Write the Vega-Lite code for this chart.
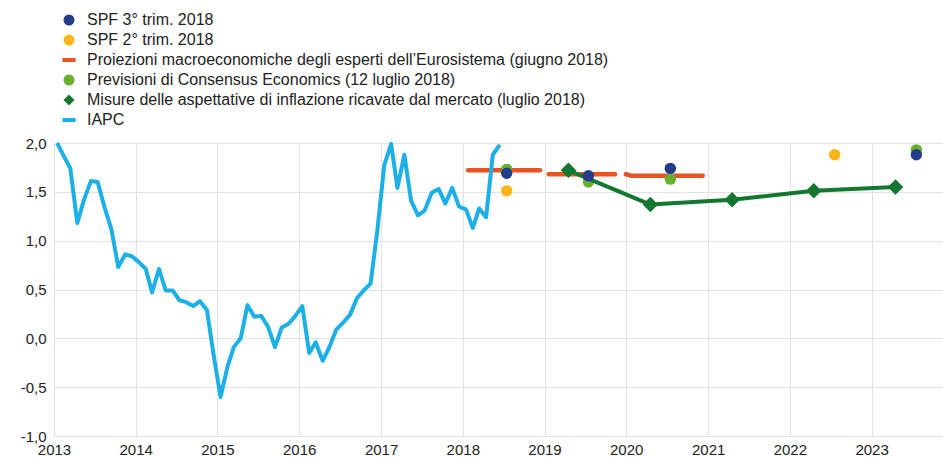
{
  "$schema": "https://vega.github.io/schema/vega-lite/v6.json",
  "width": 889,
  "height": 293,
  "autosize": {"type": "none"},
  "padding": {"left": 54, "top": 143, "right": 0, "bottom": 21},
  "config": {
    "locale": {"number": {"decimal": ",", "thousands": ".", "grouping": [3], "currency": ["", " €"], "minus": "-"}},
    "view": {"stroke": null},
    "font": "Liberation Sans",
    "axis": {"grid": true, "gridColor": "#e2e2e2", "gridWidth": 1, "domain": false, "ticks": false, "labelFontSize": 15, "labelColor": "#222222", "title": null},
    "legend": {"orient": "none", "legendX": 7, "legendY": -131, "labelFontSize": 16, "labelColor": "#222222", "labelLimit": 0, "symbolSize": 121, "rowPadding": 4, "labelOffset": 10, "padding": 0, "title": null}
  },
  "data": {"values": [
    {"series": "IAPC", "date": "2013-01-15", "value": 2.0},
    {"series": "IAPC", "date": "2013-02-15", "value": 1.86},
    {"series": "IAPC", "date": "2013-03-15", "value": 1.74},
    {"series": "IAPC", "date": "2013-04-15", "value": 1.18},
    {"series": "IAPC", "date": "2013-05-15", "value": 1.42},
    {"series": "IAPC", "date": "2013-06-15", "value": 1.61},
    {"series": "IAPC", "date": "2013-07-15", "value": 1.6},
    {"series": "IAPC", "date": "2013-08-15", "value": 1.34},
    {"series": "IAPC", "date": "2013-09-15", "value": 1.11},
    {"series": "IAPC", "date": "2013-10-15", "value": 0.73},
    {"series": "IAPC", "date": "2013-11-15", "value": 0.86},
    {"series": "IAPC", "date": "2013-12-15", "value": 0.84},
    {"series": "IAPC", "date": "2014-01-15", "value": 0.78},
    {"series": "IAPC", "date": "2014-02-15", "value": 0.71},
    {"series": "IAPC", "date": "2014-03-15", "value": 0.47},
    {"series": "IAPC", "date": "2014-04-15", "value": 0.71},
    {"series": "IAPC", "date": "2014-05-15", "value": 0.49},
    {"series": "IAPC", "date": "2014-06-15", "value": 0.49},
    {"series": "IAPC", "date": "2014-07-15", "value": 0.39},
    {"series": "IAPC", "date": "2014-08-15", "value": 0.37},
    {"series": "IAPC", "date": "2014-09-15", "value": 0.33},
    {"series": "IAPC", "date": "2014-10-15", "value": 0.38},
    {"series": "IAPC", "date": "2014-11-15", "value": 0.29},
    {"series": "IAPC", "date": "2014-12-15", "value": -0.17},
    {"series": "IAPC", "date": "2015-01-15", "value": -0.6},
    {"series": "IAPC", "date": "2015-02-15", "value": -0.29},
    {"series": "IAPC", "date": "2015-03-15", "value": -0.09},
    {"series": "IAPC", "date": "2015-04-15", "value": 0.0},
    {"series": "IAPC", "date": "2015-05-15", "value": 0.34},
    {"series": "IAPC", "date": "2015-06-15", "value": 0.22},
    {"series": "IAPC", "date": "2015-07-15", "value": 0.23},
    {"series": "IAPC", "date": "2015-08-15", "value": 0.12},
    {"series": "IAPC", "date": "2015-09-15", "value": -0.09},
    {"series": "IAPC", "date": "2015-10-15", "value": 0.11},
    {"series": "IAPC", "date": "2015-11-15", "value": 0.15},
    {"series": "IAPC", "date": "2015-12-15", "value": 0.23},
    {"series": "IAPC", "date": "2016-01-15", "value": 0.33},
    {"series": "IAPC", "date": "2016-02-15", "value": -0.15},
    {"series": "IAPC", "date": "2016-03-15", "value": -0.04},
    {"series": "IAPC", "date": "2016-04-15", "value": -0.23},
    {"series": "IAPC", "date": "2016-05-15", "value": -0.09},
    {"series": "IAPC", "date": "2016-06-15", "value": 0.09},
    {"series": "IAPC", "date": "2016-07-15", "value": 0.16},
    {"series": "IAPC", "date": "2016-08-15", "value": 0.24},
    {"series": "IAPC", "date": "2016-09-15", "value": 0.41},
    {"series": "IAPC", "date": "2016-10-15", "value": 0.49},
    {"series": "IAPC", "date": "2016-11-15", "value": 0.56},
    {"series": "IAPC", "date": "2016-12-15", "value": 1.1},
    {"series": "IAPC", "date": "2017-01-15", "value": 1.77},
    {"series": "IAPC", "date": "2017-02-15", "value": 1.99},
    {"series": "IAPC", "date": "2017-03-15", "value": 1.54},
    {"series": "IAPC", "date": "2017-04-15", "value": 1.88},
    {"series": "IAPC", "date": "2017-05-15", "value": 1.41},
    {"series": "IAPC", "date": "2017-06-15", "value": 1.26},
    {"series": "IAPC", "date": "2017-07-15", "value": 1.31},
    {"series": "IAPC", "date": "2017-08-15", "value": 1.49},
    {"series": "IAPC", "date": "2017-09-15", "value": 1.53},
    {"series": "IAPC", "date": "2017-10-15", "value": 1.38},
    {"series": "IAPC", "date": "2017-11-15", "value": 1.54},
    {"series": "IAPC", "date": "2017-12-15", "value": 1.35},
    {"series": "IAPC", "date": "2018-01-15", "value": 1.32},
    {"series": "IAPC", "date": "2018-02-15", "value": 1.13},
    {"series": "IAPC", "date": "2018-03-15", "value": 1.33},
    {"series": "IAPC", "date": "2018-04-15", "value": 1.24},
    {"series": "IAPC", "date": "2018-05-15", "value": 1.88},
    {"series": "IAPC", "date": "2018-06-15", "value": 1.98},
    {"series": "Proiezioni macroeconomiche degli esperti dell’Eurosistema (giugno 2018)", "seg": "2018", "date": "2018-01-25", "value": 1.72},
    {"series": "Proiezioni macroeconomiche degli esperti dell’Eurosistema (giugno 2018)", "seg": "2018", "date": "2018-12-12", "value": 1.72},
    {"series": "Proiezioni macroeconomiche degli esperti dell’Eurosistema (giugno 2018)", "seg": "2019", "date": "2019-01-20", "value": 1.68},
    {"series": "Proiezioni macroeconomiche degli esperti dell’Eurosistema (giugno 2018)", "seg": "2019", "date": "2019-11-12", "value": 1.68},
    {"series": "Proiezioni macroeconomiche degli esperti dell’Eurosistema (giugno 2018)", "seg": "2020", "date": "2019-12-30", "value": 1.68},
    {"series": "Proiezioni macroeconomiche degli esperti dell’Eurosistema (giugno 2018)", "seg": "2020", "date": "2020-01-25", "value": 1.665},
    {"series": "Proiezioni macroeconomiche degli esperti dell’Eurosistema (giugno 2018)", "seg": "2020", "date": "2020-12-08", "value": 1.665},
    {"series": "Previsioni di Consensus Economics (12 luglio 2018)", "date": "2018-07-16", "value": 1.73},
    {"series": "Previsioni di Consensus Economics (12 luglio 2018)", "date": "2019-07-16", "value": 1.6},
    {"series": "Previsioni di Consensus Economics (12 luglio 2018)", "date": "2020-07-16", "value": 1.63},
    {"series": "Previsioni di Consensus Economics (12 luglio 2018)", "date": "2023-07-20", "value": 1.93},
    {"series": "Misure delle aspettative di inflazione ricavate dal mercato (luglio 2018)", "date": "2019-04-18", "value": 1.72},
    {"series": "Misure delle aspettative di inflazione ricavate dal mercato (luglio 2018)", "date": "2020-04-18", "value": 1.37},
    {"series": "Misure delle aspettative di inflazione ricavate dal mercato (luglio 2018)", "date": "2021-04-18", "value": 1.42},
    {"series": "Misure delle aspettative di inflazione ricavate dal mercato (luglio 2018)", "date": "2022-04-18", "value": 1.51},
    {"series": "Misure delle aspettative di inflazione ricavate dal mercato (luglio 2018)", "date": "2023-04-18", "value": 1.55},
    {"series": "SPF 2° trim. 2018", "date": "2018-07-16", "value": 1.51},
    {"series": "SPF 2° trim. 2018", "date": "2022-07-20", "value": 1.88},
    {"series": "SPF 3° trim. 2018", "date": "2018-07-16", "value": 1.69},
    {"series": "SPF 3° trim. 2018", "date": "2019-07-16", "value": 1.665},
    {"series": "SPF 3° trim. 2018", "date": "2020-07-16", "value": 1.74},
    {"series": "SPF 3° trim. 2018", "date": "2023-07-20", "value": 1.88}
  ]},
  "encoding": {
    "x": {"field": "date", "type": "temporal",
      "scale": {"domain": ["2013-01-01", "2023-11-16"], "nice": false},
      "axis": {"format": "%Y", "tickCount": {"interval": "year", "step": 1}, "labelPadding": 6, "labelAlign": "center"}},
    "y": {"field": "value", "type": "quantitative",
      "scale": {"domain": [-1, 2], "nice": false, "zero": false},
      "axis": {"values": [-1, -0.5, 0, 0.5, 1, 1.5, 2], "format": ".1f", "labelPadding": 8}},
    "color": {"field": "series", "type": "nominal",
      "scale": {
        "domain": ["SPF 3° trim. 2018", "SPF 2° trim. 2018", "Proiezioni macroeconomiche degli esperti dell’Eurosistema (giugno 2018)", "Previsioni di Consensus Economics (12 luglio 2018)", "Misure delle aspettative di inflazione ricavate dal mercato (luglio 2018)", "IAPC"],
        "range": ["#233c8c", "#fbb519", "#ea5423", "#67b12f", "#13782f", "#1cb0e6"]},
      "legend": {
        "encode": {"symbols": {"update": {
          "shape": {"scale": "shape", "field": "value"},
          "fill": {"scale": "color", "field": "value"},
          "stroke": {"value": "transparent"},
          "strokeWidth": {"value": 0},
          "size": {"value": 121},
          "opacity": {"value": 1}
        }}}
      }}
  },
  "layer": [
    {
      "transform": [{"filter": "datum.series === 'Proiezioni macroeconomiche degli esperti dell’Eurosistema (giugno 2018)'"}],
      "mark": {"type": "line", "strokeWidth": 4.5, "strokeCap": "round", "strokeJoin": "round"},
      "encoding": {"detail": {"field": "seg"}}
    },
    {
      "transform": [{"filter": "datum.series === 'Previsioni di Consensus Economics (12 luglio 2018)'"}],
      "mark": {"type": "point", "filled": true, "opacity": 1, "size": 130},
      "encoding": {"shape": {"field": "series", "type": "nominal", "legend": null,
        "scale": {"domain": ["SPF 3° trim. 2018", "SPF 2° trim. 2018", "Proiezioni macroeconomiche degli esperti dell’Eurosistema (giugno 2018)", "Previsioni di Consensus Economics (12 luglio 2018)", "Misure delle aspettative di inflazione ricavate dal mercato (luglio 2018)", "IAPC"],
          "range": ["circle", "circle", "M-1.2,-0.36L1.2,-0.36L1.2,0.36L-1.2,0.36Z", "circle", "diamond", "M-1.2,-0.36L1.2,-0.36L1.2,0.36L-1.2,0.36Z"]}}}
    },
    {
      "transform": [{"filter": "datum.series === 'Misure delle aspettative di inflazione ricavate dal mercato (luglio 2018)'"}],
      "mark": {"type": "line", "strokeWidth": 4, "strokeJoin": "round"}
    },
    {
      "transform": [{"filter": "datum.series === 'Misure delle aspettative di inflazione ricavate dal mercato (luglio 2018)'"}],
      "mark": {"type": "point", "filled": true, "opacity": 1, "size": 240},
      "encoding": {"shape": {"field": "series", "type": "nominal", "legend": null}}
    },
    {
      "transform": [{"filter": "datum.series === 'SPF 2° trim. 2018'"}],
      "mark": {"type": "point", "filled": true, "opacity": 1, "size": 130},
      "encoding": {"shape": {"field": "series", "type": "nominal", "legend": null}}
    },
    {
      "transform": [{"filter": "datum.series === 'SPF 3° trim. 2018'"}],
      "mark": {"type": "point", "filled": true, "opacity": 1, "size": 130},
      "encoding": {"shape": {"field": "series", "type": "nominal", "legend": null}}
    },
    {
      "transform": [{"filter": "datum.series === 'IAPC'"}],
      "mark": {"type": "line", "strokeWidth": 4, "strokeJoin": "round"}
    }
  ]
}
